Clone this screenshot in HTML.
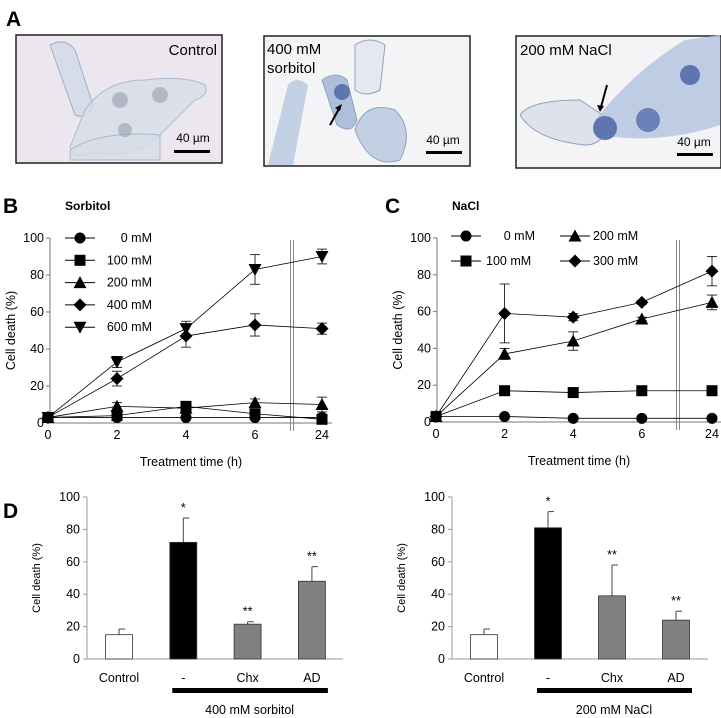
<!DOCTYPE html>
<html><head><meta charset="utf-8"><style>
html,body{margin:0;padding:0;background:#fff;}
svg{display:block;font-family:"Liberation Sans",Arial,sans-serif;}
</style></head><body>
<svg id="fig" width="721" height="718" viewBox="0 0 721 718" xmlns="http://www.w3.org/2000/svg">
<!-- Panel A -->
<text x="6" y="26" font-size="21" font-weight="bold">A</text>
<g>
<rect x="16" y="35" width="206" height="128" fill="#ece6ee" stroke="#222" stroke-width="1.5"/>
<path d="M50 45 q15-8 25 5 l18 55 q-5 15-18 10 z" fill="#d6dde8" stroke="#9fb0c5"/>
<path d="M85 110 q20-30 60-30 q40-5 60 5 q5 10-10 15 l-40 40 q-30 20-60 12 q-20 10-25 -5z" fill="#d8dee8" stroke="#9fb0c5" opacity=".8"/>
<path d="M70 150 q30-20 90-15 l0 25 l-90 0z" fill="#d8dee8" stroke="#9fb0c5" opacity=".8"/>
<circle cx="120" cy="100" r="8" fill="#8c93a0" opacity=".5"/><circle cx="160" cy="95" r="8" fill="#8c93a0" opacity=".5"/><circle cx="125" cy="130" r="7" fill="#8c93a0" opacity=".5"/>
<text x="217" y="55" font-size="15" text-anchor="end">Control</text>
<text x="193" y="142" font-size="12" text-anchor="middle">40 µm</text>
<rect x="174" y="150" width="36" height="3" fill="#000"/>
</g>
<g>
<rect x="264" y="36" width="206" height="130" fill="#f4f3f6" stroke="#222" stroke-width="1.5"/>
<path d="M268 165 l20-80 q8-10 20 0 l-15 80z" fill="#b9c9e0" opacity=".85"/>
<path d="M322 80 q15-10 25 0 l10 40 q-5 15-20 5 z" fill="#aebfdc" stroke="#8ea2bb"/>
<circle cx="342" cy="92" r="8" fill="#5d76b0"/>
<path d="M355 130 q10-30 40-20 q20 20 5 50 q-30 10-45-30z" fill="#c3d0e4" stroke="#8ea2bb"/>
<path d="M355 45 q15-10 30 0 l-5 45 q-15 8-25 0z" fill="#e6e8ef" stroke="#8ea2bb"/>
<text x="267" y="54" font-size="15">400 mM</text><text x="267" y="73" font-size="15">sorbitol</text>
<path d="M330 125 l10-18" stroke="#000" stroke-width="2"/><path d="M342 104 l-7 4 l5 3z" fill="#000"/>
<text x="443" y="144" font-size="12" text-anchor="middle">40 µm</text>
<rect x="426" y="151" width="36" height="3" fill="#000"/>
</g>
<g>
<rect x="516" y="36" width="205" height="132" fill="#f4f3f6" stroke="#222" stroke-width="1.5"/>
<path d="M520 115 q10-15 60-15 l30 20 q-5 25-25 25 q-50-5-65-30z" fill="#dde2ec" stroke="#8ea2bb"/>
<path d="M595 120 q40-50 90-80 l35-5 l0 90 q-60 20-120 10z" fill="#b5c6e0" opacity=".85"/>
<circle cx="605" cy="128" r="12" fill="#5d76b0"/><circle cx="648" cy="120" r="12" fill="#6b81b8"/><circle cx="690" cy="75" r="10" fill="#5d76b0"/>
<text x="520" y="55" font-size="15">200 mM NaCl</text>
<path d="M607 85 l-6 22" stroke="#000" stroke-width="2"/><path d="M600 112 l-3-7 l7 1z" fill="#000"/>
<text x="694" y="146" font-size="12" text-anchor="middle">40 µm</text>
<rect x="677" y="153" width="36" height="3" fill="#000"/>
</g>
<!-- Panel labels -->
<text x="3" y="213" font-size="21" font-weight="bold">B</text>
<text x="65" y="210" font-size="12" font-weight="bold">Sorbitol</text>
<text x="385" y="213" font-size="21" font-weight="bold">C</text>
<text x="452" y="210" font-size="12" font-weight="bold">NaCl</text>
<text x="3" y="518" font-size="21" font-weight="bold">D</text>
<g id="gB"></g><g id="gC"></g><g id="gD1"></g><g id="gD2"></g>
</svg>
<script>
const timeLabels = ["0","2","4","6","24"];
const timeHours = [0,2,4,6,24];
const yTicks = [0,20,40,60,80,100];
// Sorbitol series
const sorbNames = ["0 mM","100 mM","200 mM","400 mM","600 mM"];
const sorb0 = [3,3,3,3,3];
const sorb100 = [3,4,9,5,2];
const sorb200 = [3,9,8,11,10];
const sorb400 = [3,24,47,53,51];
const sorb600 = [3,33,51,83,90];
const sorbErr200 = [0,2,2,2,4];
const sorbErr400 = [0,4,6,6,3];
const sorbErr600 = [0,3,4,8,4];
// NaCl series
const naclNames = ["0 mM","100 mM","200 mM","300 mM"];
const nacl0 = [3,3,2,2,2];
const nacl100 = [3,17,16,17,17];
const nacl200 = [3,37,44,56,65];
const nacl300 = [3,59,57,65,82];
const naclErr200 = [0,3,5,1,4];
const naclErr300 = [0,16,2,1,8];
// Panel D
const barCats = ["Control","-","Chx","AD"];
const sorbBars = [15,72,21.5,48];
const sorbBarErr = [3.5,15,1.5,9];
const sorbStars = ["","*","**","**"];
const naclBars = [15,81,39,24];
const naclBarErr = [3.5,10,19,5.5];
const naclStars = ["","*","**","**"];

const NS="http://www.w3.org/2000/svg";
function mk(p,tag,a){const e=document.createElementNS(NS,tag);for(const k in a)e.setAttribute(k,a[k]);p.appendChild(e);return e;}
function txt(p,x,y,s,a){const e=mk(p,'text',Object.assign({x:x,y:y,'font-size':12.5},a||{}));e.textContent=s;return e;}
function marker(p,type,x,y){
  const s=5.5;
  if(type==='circle')return mk(p,'circle',{cx:x,cy:y,r:s,fill:'#000'});
  if(type==='square')return mk(p,'rect',{x:x-s,y:y-s,width:2*s,height:2*s,fill:'#000'});
  if(type==='up')return mk(p,'polygon',{points:`${x},${y-s-1} ${x+s+1},${y+s} ${x-s-1},${y+s}`,fill:'#000'});
  if(type==='down')return mk(p,'polygon',{points:`${x},${y+s+1} ${x+s+1},${y-s} ${x-s-1},${y-s}`,fill:'#000'});
  if(type==='diamond')return mk(p,'polygon',{points:`${x},${y-s-1} ${x+s+1},${y} ${x},${y+s+1} ${x-s-1},${y}`,fill:'#000'});
}
function lineChart(g,cfg){
  const X=t=>t<=6?cfg.x0+t*cfg.ph:cfg.x24;
  const Y=v=>cfg.y0-(v/100)*(cfg.y0-cfg.y100);
  mk(g,'line',{x1:cfg.ax,y1:cfg.y100,x2:cfg.ax,y2:cfg.y0,stroke:'#777'});
  mk(g,'line',{x1:cfg.ax,y1:cfg.y0,x2:cfg.xEnd,y2:cfg.y0,stroke:'#777'});
  yTicks.forEach(v=>{mk(g,'line',{x1:cfg.ax-4,y1:Y(v),x2:cfg.ax,y2:Y(v),stroke:'#777'});
    const t=txt(g,cfg.ax-6,Y(v)+4,String(v),{'text-anchor':'end'});});
  timeHours.forEach((h,i)=>{const t=txt(g,X(h),cfg.y0+16,timeLabels[i],{'text-anchor':'middle'});});
  mk(g,'line',{x1:cfg.brk-1.5,y1:cfg.y100+2,x2:cfg.brk-1.5,y2:cfg.y0+8,stroke:'#888'});
  mk(g,'line',{x1:cfg.brk+1.5,y1:cfg.y100+2,x2:cfg.brk+1.5,y2:cfg.y0+8,stroke:'#888'});
  const yt=txt(g,0,0,'Cell death (%)',{'text-anchor':'middle',transform:`translate(${cfg.ax-35},${(cfg.y0+cfg.y100)/2}) rotate(-90)`});
  
  const xt=txt(g,(cfg.ax+cfg.xEnd)/2,cfg.y0+43,'Treatment time (h)',{'text-anchor':'middle'});
  
  cfg.series.forEach(s=>{
    const sg=mk(g,'g',{});
    
    
    mk(sg,'polyline',{points:s.vals.map((v,i)=>X(timeHours[i])+','+Y(v)).join(' '),fill:'none',stroke:'#000','stroke-width':0.8});
    s.vals.forEach((v,i)=>{
      const e=s.err?s.err[i]:0;const x=X(timeHours[i]);
      if(e>0){mk(sg,'line',{x1:x,y1:Y(v-e),x2:x,y2:Y(v+e),stroke:'#000','stroke-width':0.8});
        [v-e,v+e].forEach(w=>mk(sg,'line',{x1:x-5,y1:Y(w),x2:x+5,y2:Y(w),stroke:'#000','stroke-width':0.8}));}
      const m=marker(sg,s.m,x,Y(v));
      
      
    });
  });
  cfg.legend.forEach(l=>{
    const lg=mk(g,'g',{});
    
    
    mk(lg,'line',{x1:l.lx,y1:l.y,x2:l.lx+30,y2:l.y,stroke:'#000'});
    marker(lg,l.m,l.lx+15,l.y);
    txt(lg,l.tx,l.y+4,l.name,{'text-anchor':l.anchor});
  });
}
const types=['circle','square','up','diamond','down'];
lineChart(document.getElementById('gB'),{ax:50,x0:48,ph:34.5,x24:322,brk:292,xEnd:332,y0:423,y100:238,
  series:[{name:sorbNames[0],vals:sorb0,m:'circle'},{name:sorbNames[1],vals:sorb100,m:'square'},{name:sorbNames[2],vals:sorb200,err:sorbErr200,m:'up'},{name:sorbNames[3],vals:sorb400,err:sorbErr400,m:'diamond'},{name:sorbNames[4],vals:sorb600,err:sorbErr600,m:'down'}],
  legend:sorbNames.map((n,i)=>({name:n,m:types[i],lx:65,y:238+i*22.3,tx:152,anchor:'end'}))});
const ctypes=['circle','square','up','diamond'];
lineChart(document.getElementById('gC'),{ax:437,x0:436,ph:34.3,x24:712,brk:678,xEnd:721,y0:422,y100:238,
  series:[{name:naclNames[0],vals:nacl0,m:'circle'},{name:naclNames[1],vals:nacl100,m:'square'},{name:naclNames[2],vals:nacl200,err:naclErr200,m:'up'},{name:naclNames[3],vals:nacl300,err:naclErr300,m:'diamond'}],
  legend:naclNames.map((n,i)=>({name:n,m:ctypes[i],lx:i<2?451:560,y:i%2?261:236,tx:i<2?(i===0?535:486):593,anchor:i===0?'end':'start'}))});

function barChart(g,cfg){
  const Y=v=>cfg.y0-(v/100)*(cfg.y0-cfg.y100);
  mk(g,'line',{x1:cfg.ax,y1:cfg.y100,x2:cfg.ax,y2:cfg.y0,stroke:'#999'});
  mk(g,'line',{x1:cfg.ax,y1:cfg.y0,x2:cfg.xEnd,y2:cfg.y0,stroke:'#999'});
  yTicks.forEach(v=>{mk(g,'line',{x1:cfg.ax-4,y1:Y(v),x2:cfg.ax,y2:Y(v),stroke:'#999'});
    const t=txt(g,cfg.ax-7,Y(v)+4,String(v),{'text-anchor':'end'});});
  const yt=txt(g,0,0,'Cell death (%)',{'text-anchor':'middle','font-size':11,transform:`translate(${cfg.ax-47},${(cfg.y0+cfg.y100)/2}) rotate(-90)`});
  
  const fills=['#fff','#000','#808080','#808080'];
  cfg.vals.forEach((v,i)=>{
    const cx=cfg.c0+i*cfg.step,w=27;
    const e=cfg.err[i];
    mk(g,'line',{x1:cx,y1:Y(v),x2:cx,y2:Y(v+e),stroke:'#444'});
    mk(g,'line',{x1:cx,y1:Y(v+e),x2:cx+6,y2:Y(v+e),stroke:'#444'});
    const b=mk(g,'rect',{x:cx-w/2,y:Y(v),width:w,height:Y(0)-Y(v),fill:fills[i],stroke:'#333','stroke-width':0.8});
    
    
    if(cfg.stars[i]){const s=txt(g,cx,Y(v+e)-6,cfg.stars[i],{'text-anchor':'middle'});}
    const l=txt(g,cx,cfg.y0+23,barCats[i],{'text-anchor':'middle'});
    
  });
  const br=mk(g,'rect',{x:cfg.c0+cfg.step-11,y:cfg.y0+29,width:2*cfg.step+27,height:5,fill:'#000'});
  
  const st=txt(g,cfg.c0+2*cfg.step+2,cfg.y0+55,cfg.sub,{'text-anchor':'middle'});
  
}
barChart(document.getElementById('gD1'),{ax:87,xEnd:343,y0:659,y100:497,c0:119,step:64.3,vals:sorbBars,err:sorbBarErr,stars:sorbStars,sub:'400 mM sorbitol'});
barChart(document.getElementById('gD2'),{ax:452,xEnd:708,y0:659,y100:497,c0:484,step:64,vals:naclBars,err:naclBarErr,stars:naclStars,sub:'200 mM NaCl'});
</script>
</body></html>
